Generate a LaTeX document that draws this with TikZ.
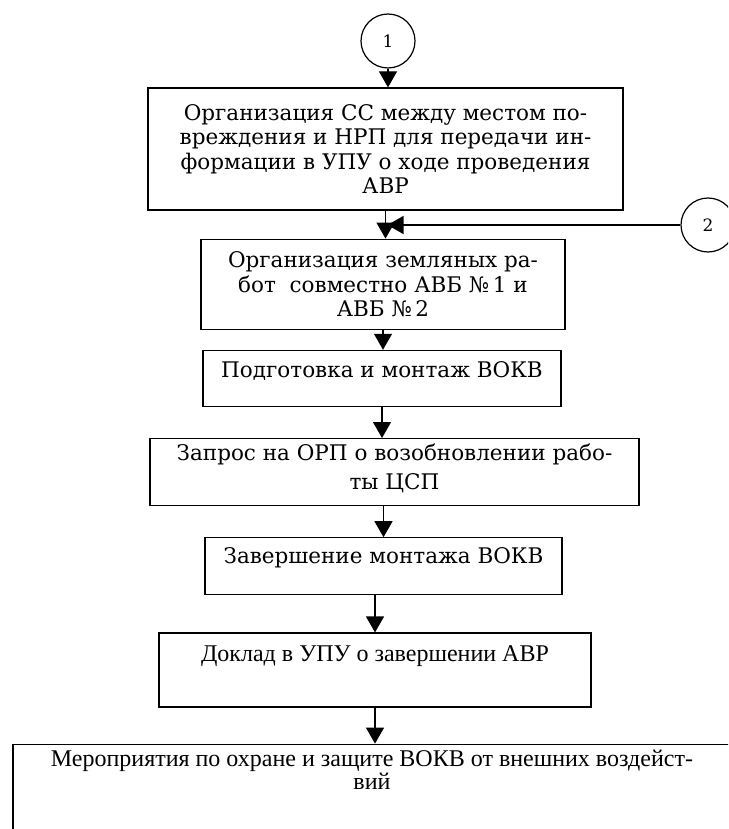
\documentclass[tikz,border=0pt]{standalone}
\usepackage{fontspec}
\setmainfont{DejaVu Serif}
\newfontfamily\plainserif{Liberation Serif}
\usetikzlibrary{arrows.meta,positioning}

\begin{document}
\begin{tikzpicture}[
  x=1pt, y=1pt,
  every node/.style={
    font=\fontsize{21.5}{24.5}\selectfont,
    text=black
  },
  block/.style={
    draw=black,
    line width=1.2pt,
    rectangle,
    fill=white,
    align=center,
    inner xsep=2pt,
    inner ysep=4pt
  },
  lowblock/.style={
    block,
    font=\plainserif\fontsize{24}{21}\selectfont
  },
  marker/.style={
    draw=black,
    line width=1.2pt,
    circle,
    minimum size=54pt,
    inner sep=0pt,
    font=\fontsize{17}{17}\selectfont
  },
  arrow/.style={
    -{Triangle[length=16pt,width=18pt]},
    draw=black,
    line width=1.2pt
  }
]
  \useasboundingbox (0,0) rectangle (728,-829);
  \clip (0,0) rectangle (728,-829);

  \node[marker] (one) at (388,-41) {1};
  \node[block, minimum width=475pt, minimum height=122pt] (link) at (385.5,-149)
    {Организация СС между местом по-\\вреждения и НРП для передачи ин-\\формации в УПУ о ходе проведения\\АВР};
  \node[marker] (two) at (708,-225) {2};
  \node[block, below=28pt of link, xshift=-2.5pt,
    minimum width=364pt, minimum height=90pt] (earth)
    {Организация земляных ра-\\бот\ \ совместно АВБ №\,1 и\\АВБ №\,2};
  \node[block, below=20pt of earth, xshift=-1pt,
    minimum width=358pt, minimum height=56pt, text depth=17pt] (mount)
    {Подготовка и монтаж ВОКВ};
  \node[block, below=31pt of mount, xshift=12.5pt,
    minimum width=489pt, minimum height=67pt, text depth=10pt,
    font=\fontsize{21.5}{29}\selectfont] (request)
    {Запрос на ОРП о возобновлении рабо-\\ты ЦСП};
  \node[block, below=31pt of request, xshift=-11pt,
    minimum width=357pt, minimum height=57pt, text depth=21pt] (finish)
    {Завершение монтажа ВОКВ};
  \node[lowblock, below=37pt of finish, xshift=-8.5pt,
    minimum width=432pt, minimum height=74pt, text depth=33pt] (report)
    {Доклад в УПУ о завершении АВР};
  \node[lowblock, below=36pt of report, xshift=-3pt,
    minimum width=718pt, inner ysep=6pt, text depth=80pt] (protect)
    {Мероприятия по охране и защите ВОКВ от внешних воздейст-\\вий};

  \coordinate (merge) at (link.south |- two.west);

  \draw[arrow] (one.south) -- (one.south |- link.north);
  \draw[arrow] (link.south) -- (link.south |- earth.north);
  \draw[arrow, shorten >=2pt] (two.west) -- (merge);
  \draw[arrow] (earth.south) -- (earth.south |- mount.north);
  \draw[arrow] (mount.south) -- (mount.south |- request.north);
  \draw[arrow] (request.south -| finish.north) -- (finish.north);
  \draw[arrow] (finish.south -| report.north) -- (report.north);
  \draw[arrow] (report.south) -- (report.south |- protect.north);
\end{tikzpicture}
\end{document}
